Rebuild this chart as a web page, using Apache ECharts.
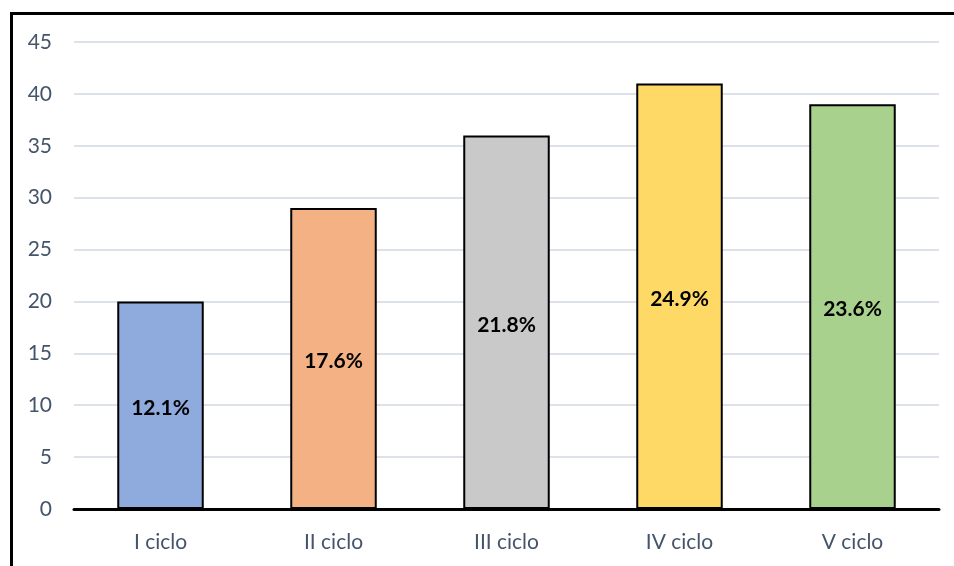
<!DOCTYPE html>
<html>
<head>
<meta charset="utf-8">
<script src="https://cdn.jsdelivr.net/npm/echarts@6/dist/echarts.min.js"></script>
<style>
html,body{margin:0;padding:0;background:#fff;overflow:hidden;}
#frame{position:absolute;left:10px;top:12px;width:1000px;height:600px;border-left:3px solid #000;border-top:3px solid #000;}
#chart{position:absolute;left:0;top:0;width:954px;height:566px;}
</style>
</head>
<body>
<div id="frame"></div>
<div id="chart"></div>
<script>
const categories = ['I ciclo', 'II ciclo', 'III ciclo', 'IV ciclo', 'V ciclo'];
const values = [20, 29, 36, 41, 39];
const percentLabels = ['12.1%', '17.6%', '21.8%', '24.9%', '23.6%'];
const barColors = ['#8faadc', '#f4b183', '#c9c9c9', '#ffd966', '#a9d18e'];

const chart = echarts.init(document.getElementById('chart'), null, {renderer: 'canvas'});
chart.setOption({
  animation: false,
  backgroundColor: 'transparent',
  grid: {left: 74, right: 15, top: 42, bottom: 57, containLabel: false},
  xAxis: {
    type: 'category',
    data: categories,
    axisLine: {lineStyle: {color: '#000', width: 3}},
    axisTick: {show: false},
    axisLabel: {color: '#44546a', fontFamily: 'Lato', fontSize: 21, margin: 23}
  },
  yAxis: {
    type: 'value',
    min: 0, max: 45, interval: 5,
    axisLine: {show: false},
    axisTick: {show: false},
    axisLabel: {color: '#44546a', fontFamily: 'Lato', fontSize: 21, margin: 22},
    splitLine: {lineStyle: {color: '#dde1ea', width: 2}}
  },
  series: [{
    type: 'bar',
    barWidth: '50%',
    data: values.map((v, i) => ({
      value: v,
      itemStyle: {color: barColors[i], borderColor: '#000', borderWidth: 2},
      label: {formatter: percentLabels[i]}
    })),
    label: {
      show: true,
      position: 'inside',
      offset: [0, 3],
      color: '#000',
      fontFamily: 'Lato',
      fontWeight: 'bold',
      fontSize: 21
    }
  }]
});
</script>
</body>
</html>
